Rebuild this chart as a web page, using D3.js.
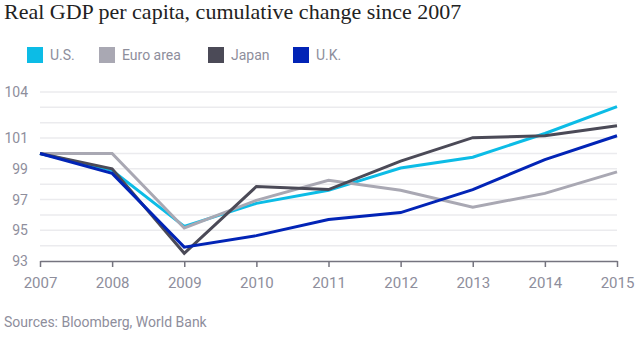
<!DOCTYPE html>
<html>
<head>
<meta charset="utf-8">
<script src="https://cdn.jsdelivr.net/npm/d3@7"></script>
<style>
  body { margin: 0; background: #fff; }
  svg { display: block; }
</style>
</head>
<body>
<div class="chart"></div>
<script>
// chart data
const years = [2007, 2008, 2009, 2010, 2011, 2012, 2013, 2014, 2015];
const usValues    = [100, 98.9, 95.25, 96.75, 97.6, 99.05, 99.75, 101.3, 103.05];
const euroValues  = [100, 100, 95.15, 96.95, 98.25, 97.6, 96.5, 97.4, 98.8];
const japanValues = [100, 99.0, 93.5, 97.85, 97.65, 99.5, 101.03, 101.15, 101.8];
const ukValues    = [100, 98.7, 93.9, 94.65, 95.7, 96.15, 97.65, 99.6, 101.15];
const seriesNames = ['U.S.', 'Euro area', 'Japan', 'U.K.'];
const yTickLabels = [93, 95, 97, 99, 101, 104];

const colors = ['#0cbce6', '#a9a8b3', '#4b4a57', '#0224b6'];
const allValues = [usValues, euroValues, japanValues, ukValues];

let width = 640, height = 343;
let margin = { top: 92, right: 23, bottom: 82, left: 40 };

let svg = d3.select('.chart')
    .append('svg')
    .attr('width', width)
    .attr('height', height);

// Title
svg.append('text')
    .attr('x', 4)
    .attr('y', 19)
    .style('font-family', '"Liberation Serif", serif')
    .style('font-size', '22px')
    .style('fill', '#222')
    .text('Real GDP per capita, cumulative change since 2007');

// Legend
const legendX = [27, 99, 208, 293];
seriesNames.forEach(function (name, i) {
    let g = svg.append('g').attr('transform', 'translate(' + legendX[i] + ',47)');
    g.append('rect')
        .attr('width', 16)
        .attr('height', 16)
        .style('fill', colors[i]);
    g.append('text')
        .attr('x', 23)
        .attr('y', 13)
        .style('font-family', 'Roboto, sans-serif')
        .style('font-size', '14px')
        .style('fill', '#8e8e9c')
        .text(name);
});

// Scales
let x = d3.scaleLinear().domain([2007, 2015]).range([margin.left, width - margin.right]);
let y = d3.scaleLinear().domain([93, 104]).range([height - margin.bottom, margin.top]);

// gridlines at every integer
svg.append('g')
    .selectAll('line')
    .data(d3.range(94, 105))
    .enter().append('line')
    .attr('x1', x(2007))
    .attr('x2', x(2015))
    .attr('y1', d => y(d))
    .attr('y2', d => y(d))
    .style('stroke', '#ebebee')
    .style('stroke-width', 1.5);

// y labels
svg.append('g')
    .selectAll('text')
    .data(yTickLabels)
    .enter().append('text')
    .attr('x', 28)
    .attr('y', d => y(d) + 5)
    .attr('text-anchor', 'end')
    .style('font-family', 'Roboto, sans-serif')
    .style('font-size', '14px')
    .style('fill', '#8e8e9c')
    .text(d => d);

// x axis
let xAxis = d3.axisBottom(x)
    .tickValues(years)
    .tickFormat(d3.format('d'))
    .tickSizeInner(6)
    .tickSizeOuter(0)
    .tickPadding(10);

let gx = svg.append('g')
    .attr('transform', 'translate(0,' + y(93) + ')')
    .call(xAxis);
gx.select('.domain').style('stroke', '#75747f').style('stroke-width', 1.5);
gx.selectAll('.tick line').style('stroke', '#75747f').style('stroke-width', 1.5);
gx.selectAll('.tick text')
    .style('font-family', 'Roboto, sans-serif')
    .style('font-size', '15px')
    .style('fill', '#8e8e9c');

// lines
let line = d3.line()
    .x((d, i) => x(years[i]))
    .y(d => y(d));

allValues.forEach(function (vals, i) {
    svg.append('path')
        .datum(vals)
        .attr('d', line)
        .style('fill', 'none')
        .style('stroke', colors[i])
        .style('stroke-width', 3)
        .style('stroke-linejoin', 'miter');
});

// source
svg.append('text')
    .attr('x', 4)
    .attr('y', 327)
    .style('font-family', 'Roboto, sans-serif')
    .style('font-size', '14px')
    .style('fill', '#8e8e9c')
    .text('Sources: Bloomberg, World Bank');
</script>
</body>
</html>
